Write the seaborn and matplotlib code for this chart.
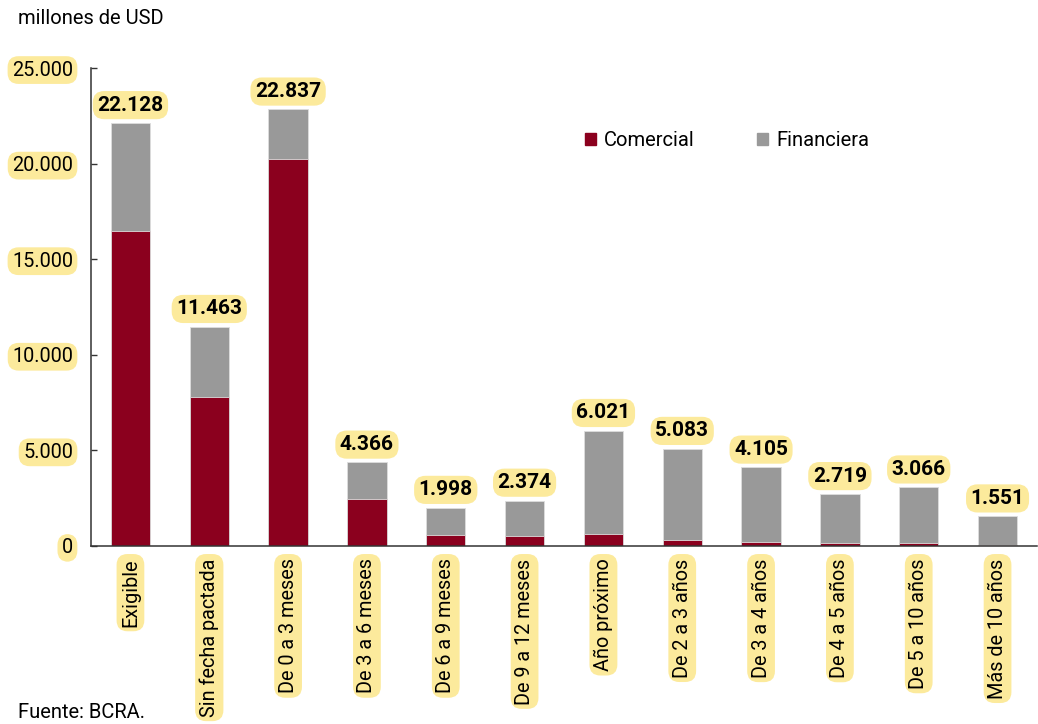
# deuda por plazo - comercial vs financiera

import pandas as pd
import matplotlib.pyplot as plt
import seaborn as sns
from matplotlib.patches import Patch

categorias = ["Exigible", "Sin fecha pactada", "De 0 a 3 meses", "De 3 a 6 meses",
              "De 6 a 9 meses", "De 9 a 12 meses", "Año próximo", "De 2 a 3 años",
              "De 3 a 4 años", "De 4 a 5 años", "De 5 a 10 años", "Más de 10 años"]
totales = [22128, 11463, 22837, 4366, 1998, 2374, 6021, 5083, 4105, 2719, 3066, 1551]
comercial = [16480, 7790, 20240, 2460, 580, 510, 640, 310, 190, 140, 160, 70]

rojo = "#8B001E"
gris = "#999999"
amarillo = "#FCEA9C"

sns.set_style("white")
plt.rcParams["font.family"] = ["Roboto", "DejaVu Sans"]
plt.rcParams["font.size"] = 14.3
plt.rcParams["text.color"] = "black"
plt.rcParams["xtick.color"] = "black"
plt.rcParams["ytick.color"] = "black"

df = pd.DataFrame({"plazo": categorias, "total": totales, "comercial": comercial})

fig, ax = plt.subplots(figsize=(10.38, 7.24), dpi=100)
fig.subplots_adjust(left=0.0877, right=0.999, bottom=0.246, top=0.906)

sns.barplot(data=df, x="plazo", y="total", color=gris, width=0.5, saturation=1,
            edgecolor="#dddddd", linewidth=0.6, ax=ax)
sns.barplot(data=df, x="plazo", y="comercial", color=rojo, width=0.5, saturation=1,
            edgecolor="#dddddd", linewidth=0.6, ax=ax)

caja = dict(boxstyle="round,pad=0.22,rounding_size=0.55", fc=amarillo, ec="none")

for i, v in enumerate(totales):
    ax.annotate(f"{v:,.0f}".replace(",", "."), (i, v), xytext=(0, 6),
                textcoords="offset points", ha="center", va="bottom",
                fontweight="bold", fontsize=15, color="black", bbox=caja)

ax.set_ylim(0, 25000)
ax.set_xlim(-0.5, len(categorias) - 0.5)
ax.set_yticks(range(0, 25001, 5000))
ax.set_yticklabels([f"{t:,.0f}".replace(",", ".") for t in range(0, 25001, 5000)])
ax.set_xticks(range(len(categorias)))
ax.set_xticklabels(categorias, rotation=90, va="top", ha="center")
ax.set_xticks([i + 0.5 for i in range(len(categorias) - 1)], minor=True)
ax.set_xlabel("")
ax.set_ylabel("")

ax.tick_params(axis="x", which="major", length=0, pad=9, labelsize=14.3)
ax.tick_params(axis="x", which="minor", direction="in", length=5, width=1, color="#333333")
ax.tick_params(axis="y", direction="in", length=4, width=1, color="#333333", pad=13,
               left=True, labelsize=14.3)

for lab in ax.get_yticklabels() + ax.get_xticklabels():
    lab.set_bbox(caja)

sns.despine(ax=ax)
for s in ["left", "bottom"]:
    ax.spines[s].set_color("#333333")
    ax.spines[s].set_linewidth(1.1)

handles = [Patch(color=rojo, label="Comercial"), Patch(color=gris, label="Financiera")]
fig.legend(handles=handles, loc="center left", bbox_to_anchor=(0.5636, 0.806),
           ncol=2, frameon=False, handlelength=0.55, handleheight=0.55,
           handletextpad=0.4, columnspacing=3.1, borderpad=0, borderaxespad=0,
           fontsize=14.5)

fig.text(18 / 1038, 1 - 18 / 724, "millones de USD", va="center", ha="left", fontsize=14.5)
fig.text(18 / 1038, 1 - 713 / 724, "Fuente: BCRA.", va="center", ha="left", fontsize=14.5)

fig.savefig("out.png", dpi=100)
